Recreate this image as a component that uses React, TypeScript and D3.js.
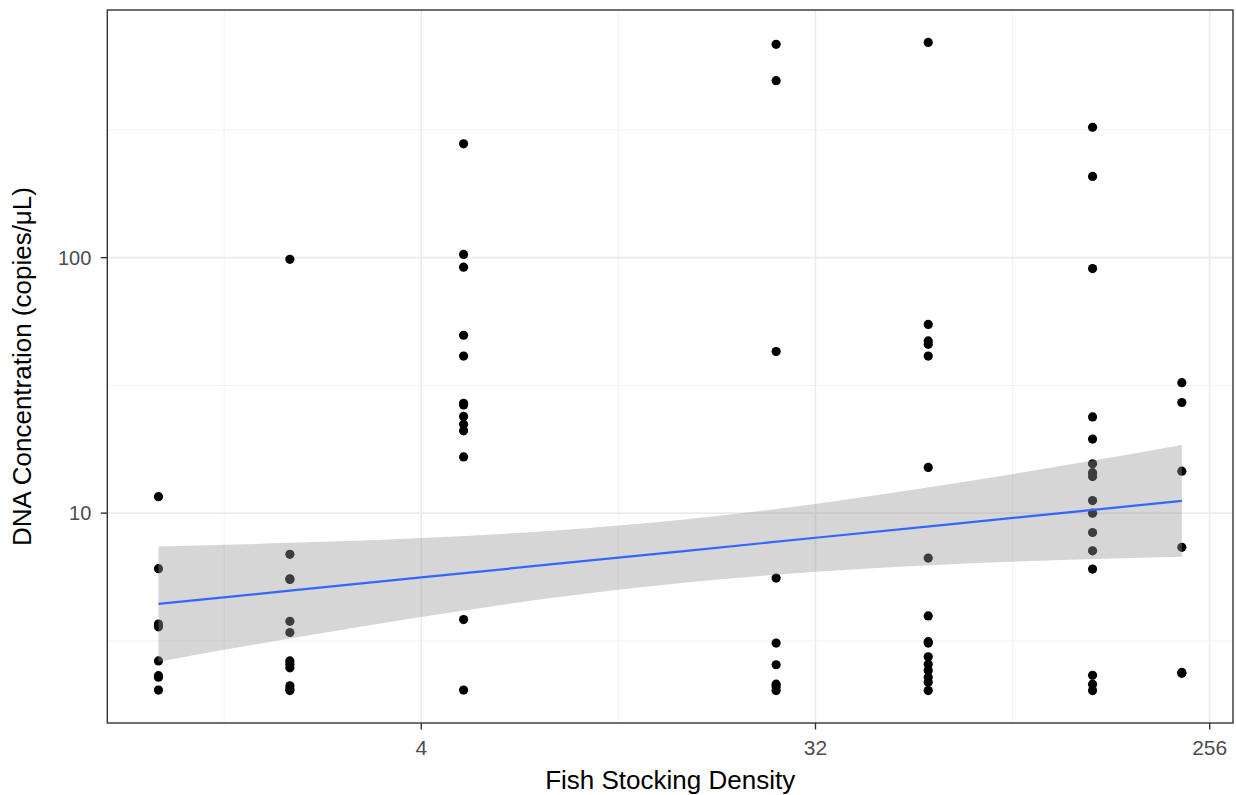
import React from "react";
import * as d3 from "d3";

// Fish stocking density columns and DNA concentrations (copies/µL)
const densities = [1, 2, 5, 26, 58, 138, 221];
const conc1 = [11.6, 6.06, 3.68, 3.59, 2.64, 2.31, 2.28, 2.03];
const conc2 = [98.5, 6.9, 5.53, 5.5, 3.77, 3.41, 2.64, 2.56, 2.48, 2.11, 2.05, 2.02];
const conc5 = [279, 103, 91.8, 49.7, 41.2, 26.9, 26.5, 23.9, 22.3, 21.0, 16.6, 3.83, 2.03];
const conc26 = [684, 493, 42.9, 5.57, 3.1, 2.55, 2.14, 2.09, 2.02];
const conc58 = [696, 54.8, 47.2, 45.8, 41.2, 15.1, 6.67, 3.96, 3.14, 3.1, 2.74, 2.56, 2.42, 2.28, 2.18, 2.02];
const conc138 = [324, 208, 90.6, 23.8, 19.5, 15.6, 14.4, 13.9, 11.2, 10.0, 8.4, 7.12, 6.04, 2.32, 2.14, 2.02];
const conc221 = [32.4, 27.1, 14.6, 7.35, 2.38, 2.36];
const concByDensity = [conc1, conc2, conc5, conc26, conc58, conc138, conc221];

// smoother (lm) fit and 95% band
const fitDensity = [1, 2, 4, 8, 16, 32, 64, 128, 221];
const fitConc = [4.41, 4.97, 5.6, 6.31, 7.1, 8.01, 9.02, 10.16, 11.17];
const fitLower = [2.62, 3.23, 3.92, 4.66, 5.34, 5.89, 6.3, 6.58, 6.75];
const fitUpper = [7.4, 7.65, 7.99, 8.54, 9.44, 10.87, 12.94, 15.7, 18.48];

const xTicks = [4, 32, 256];
const xMinor = [Math.SQRT2, Math.pow(2, 3.5), Math.pow(2, 6.5)];
const yTicks = [10, 100];
const yMinor = [Math.pow(10, 0.5), Math.pow(10, 1.5), Math.pow(10, 2.5)];

const xTitle = "Fish Stocking Density";
const yTitle = "DNA Concentration (copies/\u03BCL)";

type Pt = { x: number; y: number };
const points: Pt[] = densities.flatMap((d, i) => concByDensity[i].map((c) => ({ x: d, y: c })));
const fit = fitDensity.map((d, i) => ({ x: d, y: fitConc[i], lo: fitLower[i], hi: fitUpper[i] }));

const W = 1236;
const H = 795;
const panel = { left: 107.3, right: 1233, top: 10, bottom: 723 };

function expandLog(vals: number[], base: number): [number, number] {
  const lv = vals.map((v) => Math.log(v) / Math.log(base));
  const lo = d3.min(lv)!;
  const hi = d3.max(lv)!;
  const r = hi - lo;
  return [Math.pow(base, lo - 0.05 * r), Math.pow(base, hi + 0.05 * r)];
}

export default function App() {
  const x = d3.scaleLog().base(2).domain(expandLog(points.map((p) => p.x), 2)).range([panel.left, panel.right]);
  const y = d3.scaleLog().base(10).domain(expandLog(points.map((p) => p.y), 10)).range([panel.bottom, panel.top]);

  const area = d3
    .area<{ x: number; y: number; lo: number; hi: number }>()
    .curve(d3.curveMonotoneX)
    .x((d) => x(d.x))
    .y0((d) => y(d.lo))
    .y1((d) => y(d.hi));
  const line = d3
    .line<{ x: number; y: number }>()
    .x((d) => x(d.x))
    .y((d) => y(d.y));

  const font = "'Liberation Sans', Arial, sans-serif";

  return (
    <svg width={W} height={H} style={{ position: "absolute", left: 0, top: 0, background: "#fff" }} fontFamily={font}>
      <rect x={0} y={0} width={W} height={H} fill="#fff" />
      {/* minor grid */}
      {xMinor.map((v, i) => (
        <line key={"xm" + i} x1={x(v)} x2={x(v)} y1={panel.top} y2={panel.bottom} stroke="#F2F2F2" strokeWidth={1} />
      ))}
      {yMinor.map((v, i) => (
        <line key={"ym" + i} x1={panel.left} x2={panel.right} y1={y(v)} y2={y(v)} stroke="#F2F2F2" strokeWidth={1} />
      ))}
      {/* major grid */}
      {xTicks.map((v, i) => (
        <line key={"xg" + i} x1={x(v)} x2={x(v)} y1={panel.top} y2={panel.bottom} stroke="#EBEBEB" strokeWidth={1.6} />
      ))}
      {yTicks.map((v, i) => (
        <line key={"yg" + i} x1={panel.left} x2={panel.right} y1={y(v)} y2={y(v)} stroke="#EBEBEB" strokeWidth={1.6} />
      ))}
      {/* points */}
      {points.map((p, i) => (
        <circle key={"p" + i} cx={x(p.x)} cy={y(p.y)} r={4.6} fill="#000" />
      ))}
      {/* ribbon and fit */}
      <path d={area(fit)!} fill="#999999" fillOpacity={0.4} />
      <path d={line(fit)!} fill="none" stroke="#3366FF" strokeWidth={2.2} />
      {/* panel border */}
      <rect
        x={panel.left}
        y={panel.top}
        width={panel.right - panel.left}
        height={panel.bottom - panel.top}
        fill="none"
        stroke="#333333"
        strokeWidth={1.4}
      />
      {/* x axis ticks */}
      {xTicks.map((v, i) => (
        <g key={"xt" + i}>
          <line x1={x(v)} x2={x(v)} y1={panel.bottom} y2={panel.bottom + 6.5} stroke="#333333" strokeWidth={1.4} />
          <text x={x(v)} y={panel.bottom + 32} textAnchor="middle" fontSize={21} fill="#4D4D4D">
            {String(v)}
          </text>
        </g>
      ))}
      {/* y axis ticks */}
      {yTicks.map((v, i) => (
        <g key={"yt" + i}>
          <line x1={panel.left - 6.5} x2={panel.left} y1={y(v)} y2={y(v)} stroke="#333333" strokeWidth={1.4} />
          <text x={panel.left - 16} y={y(v)} dy="0.36em" textAnchor="end" fontSize={20} fill="#4D4D4D">
            {String(v)}
          </text>
        </g>
      ))}
      <text x={(panel.left + panel.right) / 2} y={789} textAnchor="middle" fontSize={26} fill="#000">
        {xTitle}
      </text>
      <text
        transform={`translate(31, ${(panel.top + panel.bottom) / 2}) rotate(-90)`}
        textAnchor="middle"
        fontSize={26}
        fill="#000"
      >
        {yTitle}
      </text>
    </svg>
  );
}
